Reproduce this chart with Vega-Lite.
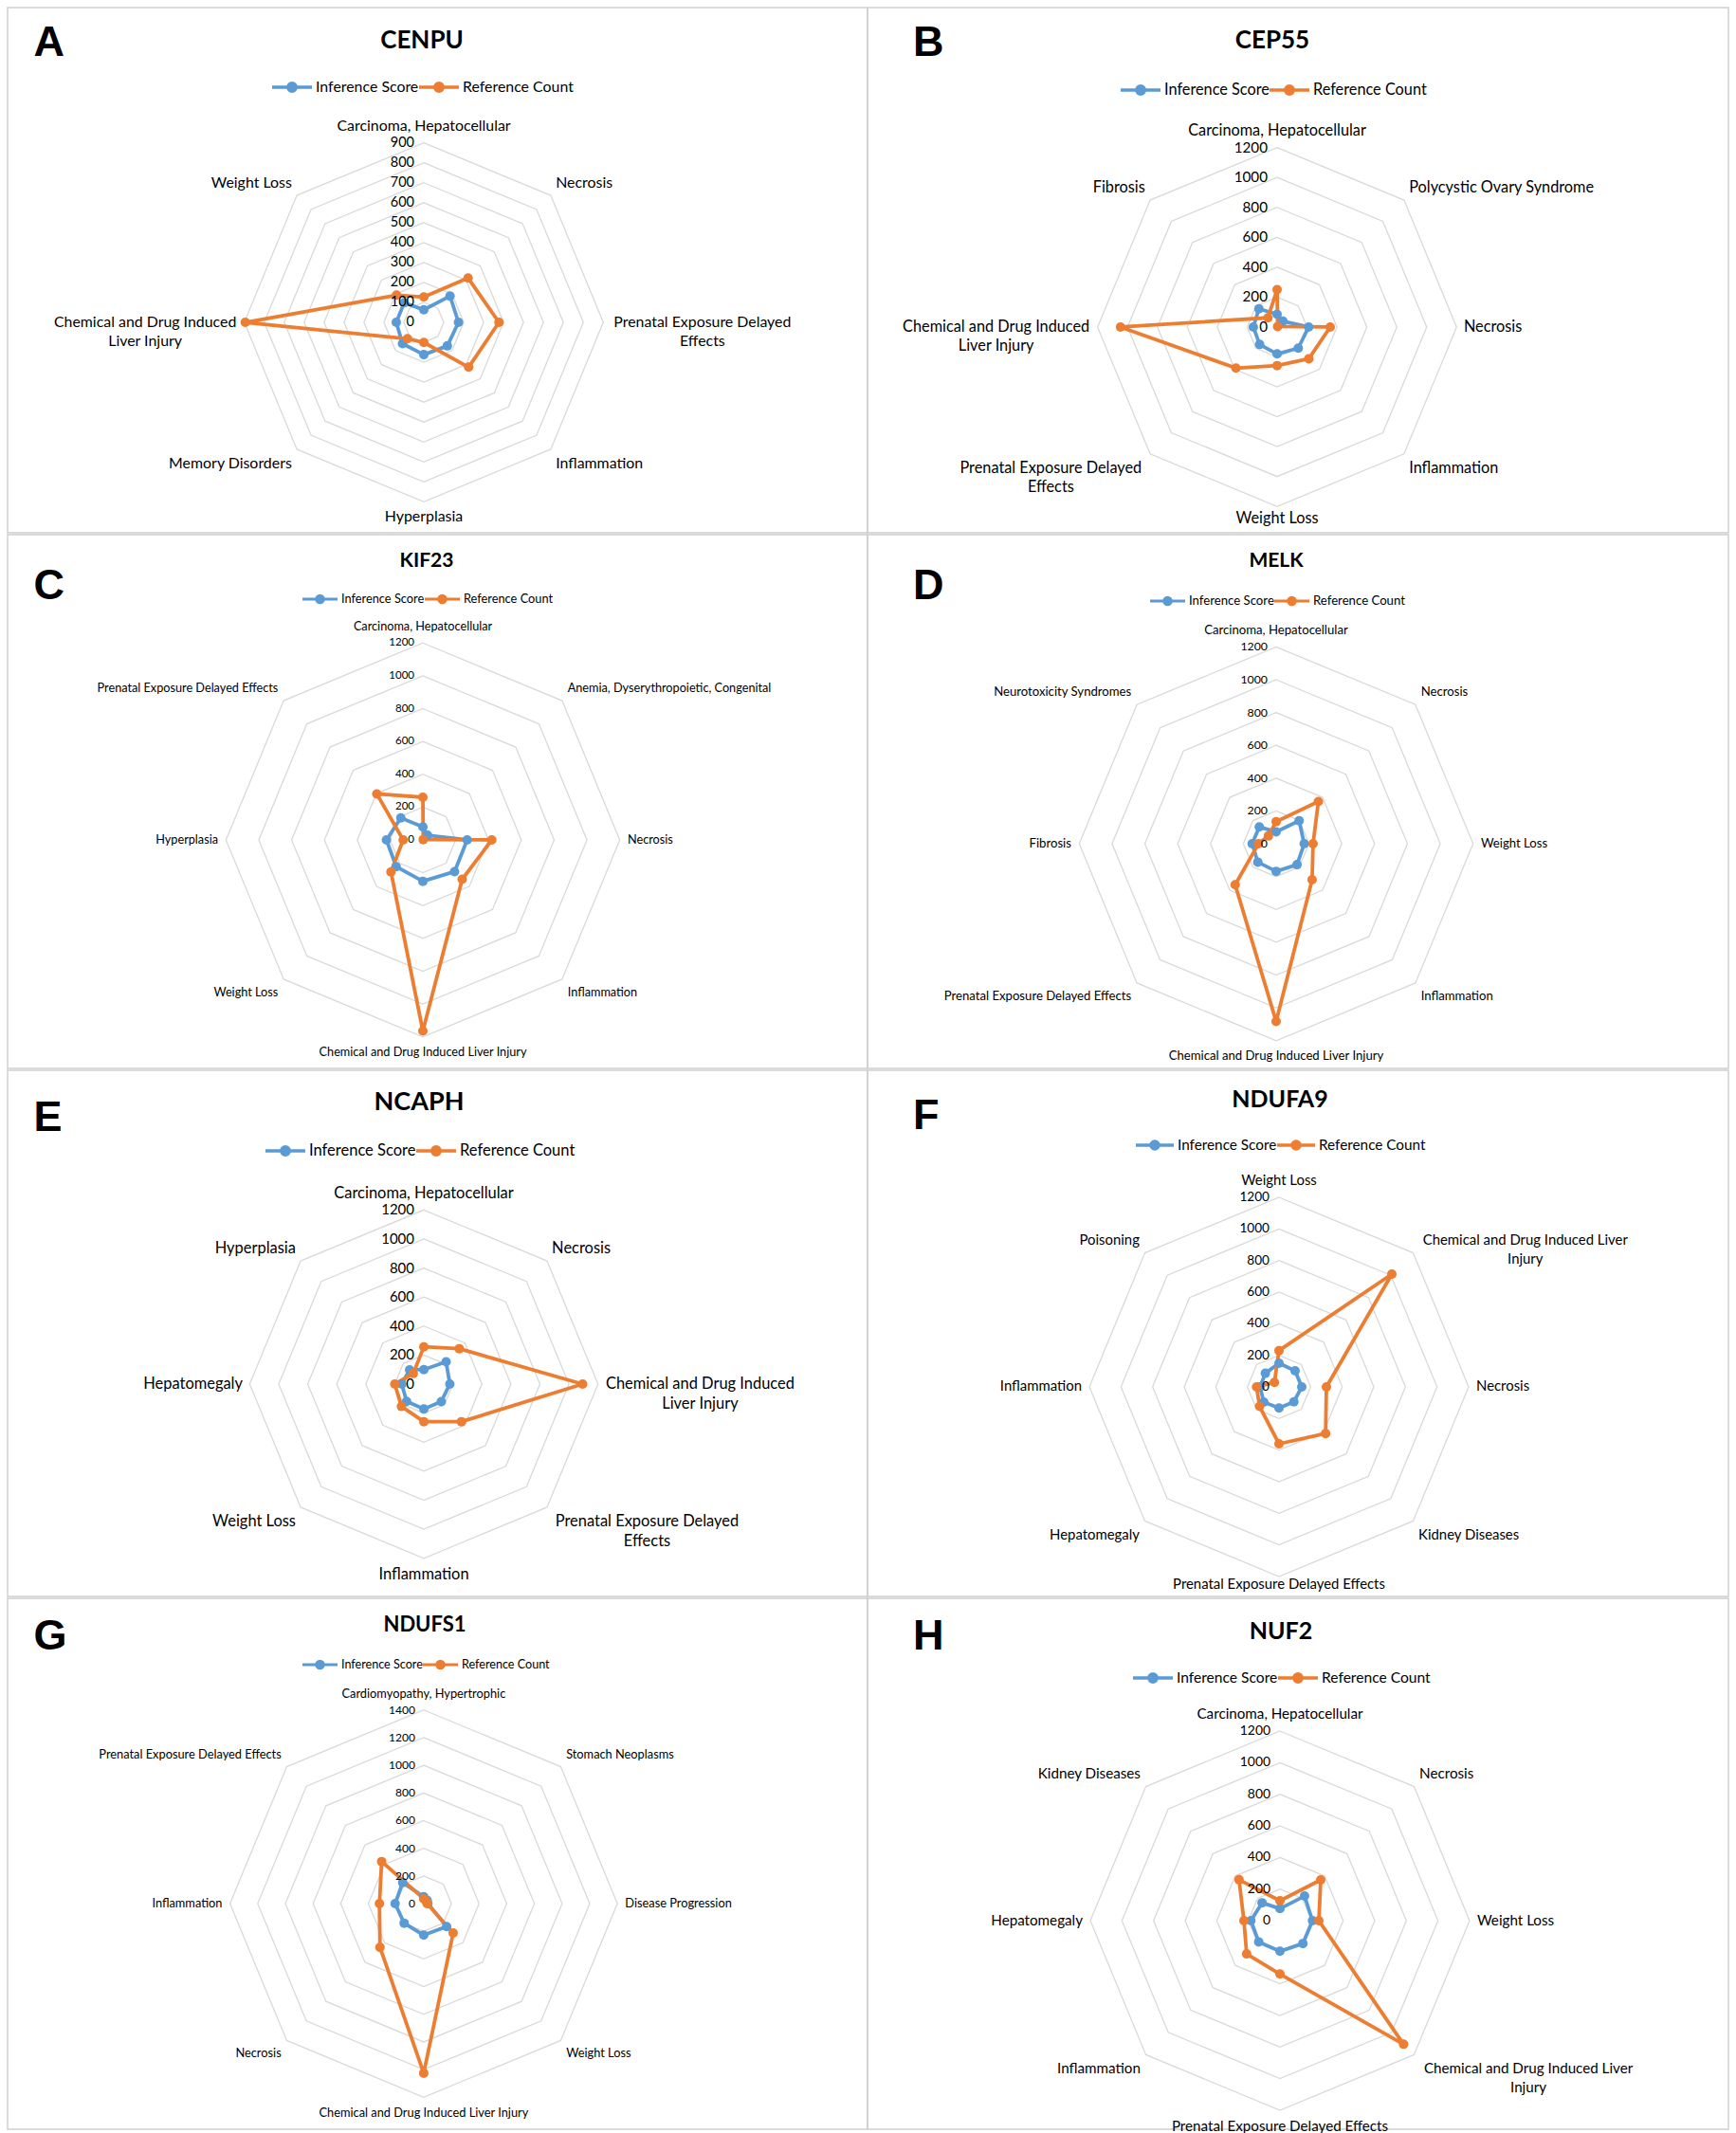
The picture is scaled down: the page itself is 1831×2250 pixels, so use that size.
{
"$schema": "https://vega.github.io/schema/vega-lite/v6.json",
"background": "white",
"padding": {"left": 7, "top": 7, "right": 9, "bottom": 11},
"config": {"view": {"stroke": "#d0d0d0", "strokeWidth": 1.5}, "font": "Lato"},
"datasets": {
"ticks": [
{"level":0,"k":[0,1,2,3,4,5,6,7]},{"level":100,"k":[0,1,2,3,4,5,6,7]},{"level":200,"k":[0,1,2,3,4,5,6,7]},{"level":300,"k":[0,1,2,3,4,5,6,7]},{"level":400,"k":[0,1,2,3,4,5,6,7]},{"level":500,"k":[0,1,2,3,4,5,6,7]},{"level":600,"k":[0,1,2,3,4,5,6,7]},{"level":700,"k":[0,1,2,3,4,5,6,7]},{"level":800,"k":[0,1,2,3,4,5,6,7]},{"level":900,"k":[0,1,2,3,4,5,6,7]},{"level":1000,"k":[0,1,2,3,4,5,6,7]},{"level":1100,"k":[0,1,2,3,4,5,6,7]},{"level":1200,"k":[0,1,2,3,4,5,6,7]},{"level":1300,"k":[0,1,2,3,4,5,6,7]},{"level":1400,"k":[0,1,2,3,4,5,6,7]}
],
"series": [
{"g":"CENPU","k":0,"cat":"Carcinoma, Hepatocellular","series":"Inference Score","value":63},
{"g":"CENPU","k":1,"cat":"Necrosis","series":"Inference Score","value":186},
{"g":"CENPU","k":2,"cat":"Prenatal Exposure Delayed Effects","series":"Inference Score","value":174},
{"g":"CENPU","k":3,"cat":"Inflammation","series":"Inference Score","value":167},
{"g":"CENPU","k":4,"cat":"Hyperplasia","series":"Inference Score","value":162},
{"g":"CENPU","k":5,"cat":"Memory Disorders","series":"Inference Score","value":151},
{"g":"CENPU","k":6,"cat":"Chemical and Drug Induced Liver Injury","series":"Inference Score","value":138},
{"g":"CENPU","k":7,"cat":"Weight Loss","series":"Inference Score","value":139},
{"g":"CENPU","k":0,"cat":"Carcinoma, Hepatocellular","series":"Reference Count","value":127},
{"g":"CENPU","k":1,"cat":"Necrosis","series":"Reference Count","value":314},
{"g":"CENPU","k":2,"cat":"Prenatal Exposure Delayed Effects","series":"Reference Count","value":377},
{"g":"CENPU","k":3,"cat":"Inflammation","series":"Reference Count","value":318},
{"g":"CENPU","k":4,"cat":"Hyperplasia","series":"Reference Count","value":101},
{"g":"CENPU","k":5,"cat":"Memory Disorders","series":"Reference Count","value":116},
{"g":"CENPU","k":6,"cat":"Chemical and Drug Induced Liver Injury","series":"Reference Count","value":895},
{"g":"CENPU","k":7,"cat":"Weight Loss","series":"Reference Count","value":193},
{"g":"CEP55","k":0,"cat":"Carcinoma, Hepatocellular","series":"Inference Score","value":85},
{"g":"CEP55","k":1,"cat":"Polycystic Ovary Syndrome","series":"Inference Score","value":55},
{"g":"CEP55","k":2,"cat":"Necrosis","series":"Inference Score","value":211},
{"g":"CEP55","k":3,"cat":"Inflammation","series":"Inference Score","value":200},
{"g":"CEP55","k":4,"cat":"Weight Loss","series":"Inference Score","value":180},
{"g":"CEP55","k":5,"cat":"Prenatal Exposure Delayed Effects","series":"Inference Score","value":165},
{"g":"CEP55","k":6,"cat":"Chemical and Drug Induced Liver Injury","series":"Inference Score","value":159},
{"g":"CEP55","k":7,"cat":"Fibrosis","series":"Inference Score","value":172},
{"g":"CEP55","k":0,"cat":"Carcinoma, Hepatocellular","series":"Reference Count","value":250},
{"g":"CEP55","k":1,"cat":"Polycystic Ovary Syndrome","series":"Reference Count","value":5},
{"g":"CEP55","k":2,"cat":"Necrosis","series":"Reference Count","value":355},
{"g":"CEP55","k":3,"cat":"Inflammation","series":"Reference Count","value":300},
{"g":"CEP55","k":4,"cat":"Weight Loss","series":"Reference Count","value":258},
{"g":"CEP55","k":5,"cat":"Prenatal Exposure Delayed Effects","series":"Reference Count","value":389},
{"g":"CEP55","k":6,"cat":"Chemical and Drug Induced Liver Injury","series":"Reference Count","value":1047},
{"g":"CEP55","k":7,"cat":"Fibrosis","series":"Reference Count","value":87},
{"g":"KIF23","k":0,"cat":"Carcinoma, Hepatocellular","series":"Inference Score","value":80},
{"g":"KIF23","k":1,"cat":"Anemia, Dyserythropoietic, Congenital","series":"Inference Score","value":40},
{"g":"KIF23","k":2,"cat":"Necrosis","series":"Inference Score","value":270},
{"g":"KIF23","k":3,"cat":"Inflammation","series":"Inference Score","value":273},
{"g":"KIF23","k":4,"cat":"Chemical and Drug Induced Liver Injury","series":"Inference Score","value":252},
{"g":"KIF23","k":5,"cat":"Weight Loss","series":"Inference Score","value":230},
{"g":"KIF23","k":6,"cat":"Hyperplasia","series":"Inference Score","value":222},
{"g":"KIF23","k":7,"cat":"Prenatal Exposure Delayed Effects","series":"Inference Score","value":190},
{"g":"KIF23","k":0,"cat":"Carcinoma, Hepatocellular","series":"Reference Count","value":260},
{"g":"KIF23","k":1,"cat":"Anemia, Dyserythropoietic, Congenital","series":"Reference Count","value":3},
{"g":"KIF23","k":2,"cat":"Necrosis","series":"Reference Count","value":420},
{"g":"KIF23","k":3,"cat":"Inflammation","series":"Reference Count","value":339},
{"g":"KIF23","k":4,"cat":"Chemical and Drug Induced Liver Injury","series":"Reference Count","value":1164},
{"g":"KIF23","k":5,"cat":"Weight Loss","series":"Reference Count","value":275},
{"g":"KIF23","k":6,"cat":"Hyperplasia","series":"Reference Count","value":120},
{"g":"KIF23","k":7,"cat":"Prenatal Exposure Delayed Effects","series":"Reference Count","value":397},
{"g":"MELK","k":0,"cat":"Carcinoma, Hepatocellular","series":"Inference Score","value":73},
{"g":"MELK","k":1,"cat":"Necrosis","series":"Inference Score","value":198},
{"g":"MELK","k":2,"cat":"Weight Loss","series":"Inference Score","value":171},
{"g":"MELK","k":3,"cat":"Inflammation","series":"Inference Score","value":180},
{"g":"MELK","k":4,"cat":"Chemical and Drug Induced Liver Injury","series":"Inference Score","value":168},
{"g":"MELK","k":5,"cat":"Prenatal Exposure Delayed Effects","series":"Inference Score","value":158},
{"g":"MELK","k":6,"cat":"Fibrosis","series":"Inference Score","value":146},
{"g":"MELK","k":7,"cat":"Neurotoxicity Syndromes","series":"Inference Score","value":145},
{"g":"MELK","k":0,"cat":"Carcinoma, Hepatocellular","series":"Reference Count","value":135},
{"g":"MELK","k":1,"cat":"Necrosis","series":"Reference Count","value":364},
{"g":"MELK","k":2,"cat":"Weight Loss","series":"Reference Count","value":225},
{"g":"MELK","k":3,"cat":"Inflammation","series":"Reference Count","value":310},
{"g":"MELK","k":4,"cat":"Chemical and Drug Induced Liver Injury","series":"Reference Count","value":1083},
{"g":"MELK","k":5,"cat":"Prenatal Exposure Delayed Effects","series":"Reference Count","value":353},
{"g":"MELK","k":6,"cat":"Fibrosis","series":"Reference Count","value":108},
{"g":"MELK","k":7,"cat":"Neurotoxicity Syndromes","series":"Reference Count","value":67},
{"g":"NCAPH","k":0,"cat":"Carcinoma, Hepatocellular","series":"Inference Score","value":100},
{"g":"NCAPH","k":1,"cat":"Necrosis","series":"Inference Score","value":217},
{"g":"NCAPH","k":2,"cat":"Chemical and Drug Induced Liver Injury","series":"Inference Score","value":179},
{"g":"NCAPH","k":3,"cat":"Prenatal Exposure Delayed Effects","series":"Inference Score","value":170},
{"g":"NCAPH","k":4,"cat":"Inflammation","series":"Inference Score","value":172},
{"g":"NCAPH","k":5,"cat":"Weight Loss","series":"Inference Score","value":168},
{"g":"NCAPH","k":6,"cat":"Hepatomegaly","series":"Inference Score","value":152},
{"g":"NCAPH","k":7,"cat":"Hyperplasia","series":"Inference Score","value":139},
{"g":"NCAPH","k":0,"cat":"Carcinoma, Hepatocellular","series":"Reference Count","value":257},
{"g":"NCAPH","k":1,"cat":"Necrosis","series":"Reference Count","value":345},
{"g":"NCAPH","k":2,"cat":"Chemical and Drug Induced Liver Injury","series":"Reference Count","value":1094},
{"g":"NCAPH","k":3,"cat":"Prenatal Exposure Delayed Effects","series":"Reference Count","value":366},
{"g":"NCAPH","k":4,"cat":"Inflammation","series":"Reference Count","value":259},
{"g":"NCAPH","k":5,"cat":"Weight Loss","series":"Reference Count","value":218},
{"g":"NCAPH","k":6,"cat":"Hepatomegaly","series":"Reference Count","value":200},
{"g":"NCAPH","k":7,"cat":"Hyperplasia","series":"Reference Count","value":103},
{"g":"NDUFA9","k":0,"cat":"Weight Loss","series":"Inference Score","value":150},
{"g":"NDUFA9","k":1,"cat":"Chemical and Drug Induced Liver Injury","series":"Inference Score","value":144},
{"g":"NDUFA9","k":2,"cat":"Necrosis","series":"Inference Score","value":144},
{"g":"NDUFA9","k":3,"cat":"Kidney Diseases","series":"Inference Score","value":133},
{"g":"NDUFA9","k":4,"cat":"Prenatal Exposure Delayed Effects","series":"Inference Score","value":134},
{"g":"NDUFA9","k":5,"cat":"Hepatomegaly","series":"Inference Score","value":136},
{"g":"NDUFA9","k":6,"cat":"Inflammation","series":"Inference Score","value":120},
{"g":"NDUFA9","k":7,"cat":"Poisoning","series":"Inference Score","value":122},
{"g":"NDUFA9","k":0,"cat":"Weight Loss","series":"Reference Count","value":230},
{"g":"NDUFA9","k":1,"cat":"Chemical and Drug Induced Liver Injury","series":"Reference Count","value":1010},
{"g":"NDUFA9","k":2,"cat":"Necrosis","series":"Reference Count","value":300},
{"g":"NDUFA9","k":3,"cat":"Kidney Diseases","series":"Reference Count","value":417},
{"g":"NDUFA9","k":4,"cat":"Prenatal Exposure Delayed Effects","series":"Reference Count","value":360},
{"g":"NDUFA9","k":5,"cat":"Hepatomegaly","series":"Reference Count","value":174},
{"g":"NDUFA9","k":6,"cat":"Inflammation","series":"Reference Count","value":142},
{"g":"NDUFA9","k":7,"cat":"Poisoning","series":"Reference Count","value":41},
{"g":"NDUFS1","k":0,"cat":"Cardiomyopathy, Hypertrophic","series":"Inference Score","value":50},
{"g":"NDUFS1","k":1,"cat":"Stomach Neoplasms","series":"Inference Score","value":35},
{"g":"NDUFS1","k":2,"cat":"Disease Progression","series":"Inference Score","value":30},
{"g":"NDUFS1","k":3,"cat":"Weight Loss","series":"Inference Score","value":234},
{"g":"NDUFS1","k":4,"cat":"Chemical and Drug Induced Liver Injury","series":"Inference Score","value":228},
{"g":"NDUFS1","k":5,"cat":"Necrosis","series":"Inference Score","value":200},
{"g":"NDUFS1","k":6,"cat":"Inflammation","series":"Inference Score","value":207},
{"g":"NDUFS1","k":7,"cat":"Prenatal Exposure Delayed Effects","series":"Inference Score","value":215},
{"g":"NDUFS1","k":0,"cat":"Cardiomyopathy, Hypertrophic","series":"Reference Count","value":35},
{"g":"NDUFS1","k":1,"cat":"Stomach Neoplasms","series":"Reference Count","value":25},
{"g":"NDUFS1","k":2,"cat":"Disease Progression","series":"Reference Count","value":25},
{"g":"NDUFS1","k":3,"cat":"Weight Loss","series":"Reference Count","value":301},
{"g":"NDUFS1","k":4,"cat":"Chemical and Drug Induced Liver Injury","series":"Reference Count","value":1226},
{"g":"NDUFS1","k":5,"cat":"Necrosis","series":"Reference Count","value":447},
{"g":"NDUFS1","k":6,"cat":"Inflammation","series":"Reference Count","value":320},
{"g":"NDUFS1","k":7,"cat":"Prenatal Exposure Delayed Effects","series":"Reference Count","value":430},
{"g":"NUF2","k":0,"cat":"Carcinoma, Hepatocellular","series":"Inference Score","value":76},
{"g":"NUF2","k":1,"cat":"Necrosis","series":"Inference Score","value":220},
{"g":"NUF2","k":2,"cat":"Weight Loss","series":"Inference Score","value":206},
{"g":"NUF2","k":3,"cat":"Chemical and Drug Induced Liver Injury","series":"Inference Score","value":205},
{"g":"NUF2","k":4,"cat":"Prenatal Exposure Delayed Effects","series":"Inference Score","value":194},
{"g":"NUF2","k":5,"cat":"Inflammation","series":"Inference Score","value":190},
{"g":"NUF2","k":6,"cat":"Hepatomegaly","series":"Inference Score","value":184},
{"g":"NUF2","k":7,"cat":"Kidney Diseases","series":"Inference Score","value":160},
{"g":"NUF2","k":0,"cat":"Carcinoma, Hepatocellular","series":"Reference Count","value":126},
{"g":"NUF2","k":1,"cat":"Necrosis","series":"Reference Count","value":365},
{"g":"NUF2","k":2,"cat":"Weight Loss","series":"Reference Count","value":246},
{"g":"NUF2","k":3,"cat":"Chemical and Drug Induced Liver Injury","series":"Reference Count","value":1106},
{"g":"NUF2","k":4,"cat":"Prenatal Exposure Delayed Effects","series":"Reference Count","value":338},
{"g":"NUF2","k":5,"cat":"Inflammation","series":"Reference Count","value":298},
{"g":"NUF2","k":6,"cat":"Hepatomegaly","series":"Reference Count","value":228},
{"g":"NUF2","k":7,"cat":"Kidney Diseases","series":"Reference Count","value":366}
]
},
"spacing": 0,
"resolve": {"scale": {"x": "independent", "y": "independent", "color": "independent"}, "legend": {"color": "independent"}, "axis": {"x": "independent", "y": "independent"}},
"vconcat": [
{"hconcat": [
{
"width": 907, "height": 554,
"encoding": {
"x": {"field": "x", "type": "quantitative", "scale": {"domain": [-2087, 2225], "nice": false, "zero": false}, "axis": {"orient": "top", "domain": false, "ticks": false, "labels": false, "grid": false, "title": "A", "titleFont": "Liberation Sans", "titleFontSize": 45, "titleFontWeight": "bold", "titleColor": "#000", "titleAngle": 0, "titleAlign": "left", "titleAnchor": "start", "titleBaseline": "alphabetic", "titleX": 27, "titleY": 50}},
"y": {"field": "y", "type": "quantitative", "scale": {"domain": [-1055, 1578], "nice": false, "zero": false}, "axis": null}
},
"layer": [
{"data": {"name": "ticks"}, "transform": [{"filter": "datum.level > 0 && datum.level <= 900"}, {"flatten": ["k"]}, {"calculate": "datum.level * sin(datum.k * PI / 4)", "as": "x"}, {"calculate": "datum.level * cos(datum.k * PI / 4)", "as": "y"}], "mark": {"type": "line", "interpolate": "linear-closed", "color": "#d9d9d9", "strokeWidth": 1.3}, "encoding": {"detail": {"field": "level", "type": "nominal"}, "order": {"field": "k", "type": "quantitative"}}},
{"data": {"name": "series"}, "transform": [{"filter": "datum.g == 'CENPU'"}, {"calculate": "datum.value * sin(datum.k * PI / 4)", "as": "x"}, {"calculate": "datum.value * cos(datum.k * PI / 4)", "as": "y"}], "layer": [
{"mark": {"type": "line", "interpolate": "linear-closed", "strokeWidth": 3.8, "strokeJoin": "round"}, "encoding": {"order": {"field": "k", "type": "quantitative"}, "color": {"field": "series", "type": "nominal", "scale": {"domain": ["Inference Score", "Reference Count"], "range": ["#5B9BD5", "#ED7D31"]}, "legend": {"orient": "none", "legendX": 277, "legendY": 21.6, "direction": "horizontal", "title": "CENPU", "titleOrient": "top", "titleAnchor": "middle", "titleBaseline": "top", "titleFont": "Lato", "titleFontSize": 26, "titleFontWeight": "bold", "titleColor": "#000", "titlePadding": 13.4, "gridAlign": "none", "symbolType": "M-1,0L1,0M0.2,0A0.2,0.2,0,1,1,-0.2,0A0.2,0.2,0,1,1,0.2,0Z", "symbolSize": 1764, "symbolStrokeWidth": 3.5, "labelFont": "Lato", "labelFontSize": 15.9, "labelColor": "#000", "labelOffset": 2, "columnPadding": -7, "encode": {"symbols": {"update": {"fill": {"signal": "datum.value === 'Inference Score' ? '#5B9BD5' : '#ED7D31'"}, "stroke": {"signal": "datum.value === 'Inference Score' ? '#5B9BD5' : '#ED7D31'"}}}}}}}},
{"mark": {"type": "point", "filled": true, "size": 100, "opacity": 1}, "encoding": {"color": {"field": "series", "type": "nominal", "scale": {"domain": ["Inference Score", "Reference Count"], "range": ["#5B9BD5", "#ED7D31"]}, "legend": {"orient": "none", "legendX": 277, "legendY": 21.6, "direction": "horizontal", "title": "CENPU", "titleOrient": "top", "titleAnchor": "middle", "titleBaseline": "top", "titleFont": "Lato", "titleFontSize": 26, "titleFontWeight": "bold", "titleColor": "#000", "titlePadding": 13.4, "gridAlign": "none", "symbolType": "M-1,0L1,0M0.2,0A0.2,0.2,0,1,1,-0.2,0A0.2,0.2,0,1,1,0.2,0Z", "symbolSize": 1764, "symbolStrokeWidth": 3.5, "labelFont": "Lato", "labelFontSize": 15.9, "labelColor": "#000", "labelOffset": 2, "columnPadding": -7, "encode": {"symbols": {"update": {"fill": {"signal": "datum.value === 'Inference Score' ? '#5B9BD5' : '#ED7D31'"}, "stroke": {"signal": "datum.value === 'Inference Score' ? '#5B9BD5' : '#ED7D31'"}}}}}}}}
]},
{"data": {"name": "ticks"}, "transform": [{"filter": "datum.level <= 900"}, {"calculate": "0", "as": "x"}, {"calculate": "datum.level", "as": "y"}], "mark": {"type": "text", "align": "right", "baseline": "middle", "dx": -10, "fontSize": 14.5, "font": "Lato", "color": "#000"}, "encoding": {"text": {"field": "level", "type": "quantitative", "format": "d"}}},
{"data": {"name": "series"}, "transform": [{"filter": "datum.g == 'CENPU' && datum.series == 'Reference Count'"}, {"calculate": "replace(replace(datum.cat, 'Induced ', 'Induced|'), 'Delayed ', 'Delayed|')", "as": "label"}, {"calculate": "(datum.k % 4 == 0 ? 1.05 : 1.04) * 900 * sin(datum.k * PI / 4)", "as": "x"}, {"calculate": "(datum.k == 0 ? 1.05 : (datum.k == 4 ? 1.04 : (datum.k == 3 || datum.k == 5 ? 1.055 : 1.04))) * 900 * cos(datum.k * PI / 4)", "as": "y"}], "mark": {"type": "text", "lineBreak": "|", "lineHeight": 20, "fontSize": 15.9, "font": "Lato", "color": "#000", "align": {"expr": "datum.k % 4 == 0 || indexof(datum.label, '|') >= 0 ? 'center' : (datum.k < 4 ? 'left' : 'right')"}, "dx": {"expr": "indexof(datum.label, '|') >= 0 ? (datum.k < 4 ? 1 : -1) * 0.244 * 15.9 * length(split(datum.label, '|')[0]) : 0"}, "baseline": {"expr": "datum.k == 0 || datum.k == 1 || datum.k == 7 ? 'bottom' : (datum.k == 2 || datum.k == 6 ? 'middle' : 'top')"}}, "encoding": {"text": {"field": "label", "type": "nominal"}}}
]
},
{
"width": 908, "height": 554,
"encoding": {
"x": {"field": "x", "type": "quantitative", "scale": {"domain": [-2738, 3017], "nice": false, "zero": false}, "axis": {"orient": "top", "domain": false, "ticks": false, "labels": false, "grid": false, "title": "B", "titleFont": "Liberation Sans", "titleFontSize": 45, "titleFontWeight": "bold", "titleColor": "#000", "titleAngle": 0, "titleAlign": "left", "titleAnchor": "start", "titleBaseline": "alphabetic", "titleX": 47.5, "titleY": 50}},
"y": {"field": "y", "type": "quantitative", "scale": {"domain": [-1376, 2136], "nice": false, "zero": false}, "axis": null}
},
"layer": [
{"data": {"name": "ticks"}, "transform": [{"filter": "datum.level > 0 && datum.level <= 1200 && datum.level % 200 == 0"}, {"flatten": ["k"]}, {"calculate": "datum.level * sin(datum.k * PI / 4)", "as": "x"}, {"calculate": "datum.level * cos(datum.k * PI / 4)", "as": "y"}], "mark": {"type": "line", "interpolate": "linear-closed", "color": "#d9d9d9", "strokeWidth": 1.3}, "encoding": {"detail": {"field": "level", "type": "nominal"}, "order": {"field": "k", "type": "quantitative"}}},
{"data": {"name": "series"}, "transform": [{"filter": "datum.g == 'CEP55'"}, {"calculate": "datum.value * sin(datum.k * PI / 4)", "as": "x"}, {"calculate": "datum.value * cos(datum.k * PI / 4)", "as": "y"}], "layer": [
{"mark": {"type": "line", "interpolate": "linear-closed", "strokeWidth": 3.8, "strokeJoin": "round"}, "encoding": {"order": {"field": "k", "type": "quantitative"}, "color": {"field": "series", "type": "nominal", "scale": {"domain": ["Inference Score", "Reference Count"], "range": ["#5B9BD5", "#ED7D31"]}, "legend": {"orient": "none", "legendX": 265, "legendY": 21.6, "direction": "horizontal", "title": "CEP55", "titleOrient": "top", "titleAnchor": "middle", "titleBaseline": "top", "titleFont": "Lato", "titleFontSize": 26, "titleFontWeight": "bold", "titleColor": "#000", "titlePadding": 16.4, "gridAlign": "none", "symbolType": "M-1,0L1,0M0.2,0A0.2,0.2,0,1,1,-0.2,0A0.2,0.2,0,1,1,0.2,0Z", "symbolSize": 1764, "symbolStrokeWidth": 3.5, "labelFont": "Lato", "labelFontSize": 16.3, "labelColor": "#000", "labelOffset": 2, "columnPadding": -7, "encode": {"symbols": {"update": {"fill": {"signal": "datum.value === 'Inference Score' ? '#5B9BD5' : '#ED7D31'"}, "stroke": {"signal": "datum.value === 'Inference Score' ? '#5B9BD5' : '#ED7D31'"}}}}}}}},
{"mark": {"type": "point", "filled": true, "size": 100, "opacity": 1}, "encoding": {"color": {"field": "series", "type": "nominal", "scale": {"domain": ["Inference Score", "Reference Count"], "range": ["#5B9BD5", "#ED7D31"]}, "legend": {"orient": "none", "legendX": 265, "legendY": 21.6, "direction": "horizontal", "title": "CEP55", "titleOrient": "top", "titleAnchor": "middle", "titleBaseline": "top", "titleFont": "Lato", "titleFontSize": 26, "titleFontWeight": "bold", "titleColor": "#000", "titlePadding": 16.4, "gridAlign": "none", "symbolType": "M-1,0L1,0M0.2,0A0.2,0.2,0,1,1,-0.2,0A0.2,0.2,0,1,1,0.2,0Z", "symbolSize": 1764, "symbolStrokeWidth": 3.5, "labelFont": "Lato", "labelFontSize": 16.3, "labelColor": "#000", "labelOffset": 2, "columnPadding": -7, "encode": {"symbols": {"update": {"fill": {"signal": "datum.value === 'Inference Score' ? '#5B9BD5' : '#ED7D31'"}, "stroke": {"signal": "datum.value === 'Inference Score' ? '#5B9BD5' : '#ED7D31'"}}}}}}}}
]},
{"data": {"name": "ticks"}, "transform": [{"filter": "datum.level <= 1200 && datum.level % 200 == 0"}, {"calculate": "0", "as": "x"}, {"calculate": "datum.level", "as": "y"}], "mark": {"type": "text", "align": "right", "baseline": "middle", "dx": -10, "fontSize": 15.2, "font": "Lato", "color": "#000"}, "encoding": {"text": {"field": "level", "type": "quantitative", "format": "d"}}},
{"data": {"name": "series"}, "transform": [{"filter": "datum.g == 'CEP55' && datum.series == 'Reference Count'"}, {"calculate": "replace(replace(datum.cat, 'Induced ', 'Induced|'), 'Delayed ', 'Delayed|')", "as": "label"}, {"calculate": "(datum.k % 4 == 0 ? 1.05 : 1.04) * 1200 * sin(datum.k * PI / 4)", "as": "x"}, {"calculate": "(datum.k == 0 ? 1.05 : (datum.k == 4 ? 1.025 : (datum.k == 3 || datum.k == 5 ? 1.055 : 1.04))) * 1200 * cos(datum.k * PI / 4)", "as": "y"}], "mark": {"type": "text", "lineBreak": "|", "lineHeight": 20, "fontSize": 16.3, "font": "Lato", "color": "#000", "align": {"expr": "datum.k % 4 == 0 || indexof(datum.label, '|') >= 0 ? 'center' : (datum.k < 4 ? 'left' : 'right')"}, "dx": {"expr": "indexof(datum.label, '|') >= 0 ? (datum.k < 4 ? 1 : -1) * 0.244 * 16.3 * length(split(datum.label, '|')[0]) : 0"}, "baseline": {"expr": "datum.k == 0 || datum.k == 1 || datum.k == 7 ? 'bottom' : (datum.k == 2 || datum.k == 6 ? 'middle' : 'top')"}}, "encoding": {"text": {"field": "label", "type": "nominal"}}}
]
}
], "spacing": 0, "bounds": "flush", "resolve": {"scale": {"x": "independent", "y": "independent", "color": "independent"}, "legend": {"color": "independent"}, "axis": {"x": "independent", "y": "independent"}}},
{"hconcat": [
{
"width": 907, "height": 563,
"encoding": {
"x": {"field": "x", "type": "quantitative", "scale": {"domain": [-2531, 2710], "nice": false, "zero": false}, "axis": {"orient": "top", "domain": false, "ticks": false, "labels": false, "grid": false, "title": "C", "titleFont": "Liberation Sans", "titleFontSize": 45, "titleFontWeight": "bold", "titleColor": "#000", "titleAngle": 0, "titleAlign": "left", "titleAnchor": "start", "titleBaseline": "alphabetic", "titleX": 27, "titleY": 67.5}},
"y": {"field": "y", "type": "quantitative", "scale": {"domain": [-1392, 1860], "nice": false, "zero": false}, "axis": null}
},
"layer": [
{"data": {"name": "ticks"}, "transform": [{"filter": "datum.level > 0 && datum.level <= 1200 && datum.level % 200 == 0"}, {"flatten": ["k"]}, {"calculate": "datum.level * sin(datum.k * PI / 4)", "as": "x"}, {"calculate": "datum.level * cos(datum.k * PI / 4)", "as": "y"}], "mark": {"type": "line", "interpolate": "linear-closed", "color": "#d9d9d9", "strokeWidth": 1.3}, "encoding": {"detail": {"field": "level", "type": "nominal"}, "order": {"field": "k", "type": "quantitative"}}},
{"data": {"name": "series"}, "transform": [{"filter": "datum.g == 'KIF23'"}, {"calculate": "datum.value * sin(datum.k * PI / 4)", "as": "x"}, {"calculate": "datum.value * cos(datum.k * PI / 4)", "as": "y"}], "layer": [
{"mark": {"type": "line", "interpolate": "linear-closed", "strokeWidth": 3.8, "strokeJoin": "round"}, "encoding": {"order": {"field": "k", "type": "quantitative"}, "color": {"field": "series", "type": "nominal", "scale": {"domain": ["Inference Score", "Reference Count"], "range": ["#5B9BD5", "#ED7D31"]}, "legend": {"orient": "none", "legendX": 309, "legendY": 16.5, "direction": "horizontal", "title": "KIF23", "titleOrient": "top", "titleAnchor": "middle", "titleBaseline": "top", "titleFont": "Lato", "titleFontSize": 21, "titleFontWeight": "bold", "titleColor": "#000", "titlePadding": 10, "gridAlign": "none", "symbolType": "M-1,0L1,0M0.2,0A0.2,0.2,0,1,1,-0.2,0A0.2,0.2,0,1,1,0.2,0Z", "symbolSize": 1369, "symbolStrokeWidth": 3.2, "labelFont": "Lato", "labelFontSize": 12.8, "labelColor": "#000", "labelOffset": 2, "columnPadding": -7, "encode": {"symbols": {"update": {"fill": {"signal": "datum.value === 'Inference Score' ? '#5B9BD5' : '#ED7D31'"}, "stroke": {"signal": "datum.value === 'Inference Score' ? '#5B9BD5' : '#ED7D31'"}}}}}}}},
{"mark": {"type": "point", "filled": true, "size": 100, "opacity": 1}, "encoding": {"color": {"field": "series", "type": "nominal", "scale": {"domain": ["Inference Score", "Reference Count"], "range": ["#5B9BD5", "#ED7D31"]}, "legend": {"orient": "none", "legendX": 309, "legendY": 16.5, "direction": "horizontal", "title": "KIF23", "titleOrient": "top", "titleAnchor": "middle", "titleBaseline": "top", "titleFont": "Lato", "titleFontSize": 21, "titleFontWeight": "bold", "titleColor": "#000", "titlePadding": 10, "gridAlign": "none", "symbolType": "M-1,0L1,0M0.2,0A0.2,0.2,0,1,1,-0.2,0A0.2,0.2,0,1,1,0.2,0Z", "symbolSize": 1369, "symbolStrokeWidth": 3.2, "labelFont": "Lato", "labelFontSize": 12.8, "labelColor": "#000", "labelOffset": 2, "columnPadding": -7, "encode": {"symbols": {"update": {"fill": {"signal": "datum.value === 'Inference Score' ? '#5B9BD5' : '#ED7D31'"}, "stroke": {"signal": "datum.value === 'Inference Score' ? '#5B9BD5' : '#ED7D31'"}}}}}}}}
]},
{"data": {"name": "ticks"}, "transform": [{"filter": "datum.level <= 1200 && datum.level % 200 == 0"}, {"calculate": "0", "as": "x"}, {"calculate": "datum.level", "as": "y"}], "mark": {"type": "text", "align": "right", "baseline": "middle", "dx": -9, "fontSize": 11.5, "font": "Lato", "color": "#000"}, "encoding": {"text": {"field": "level", "type": "quantitative", "format": "d"}}},
{"data": {"name": "series"}, "transform": [{"filter": "datum.g == 'KIF23' && datum.series == 'Reference Count'"}, {"calculate": "datum.cat", "as": "label"}, {"calculate": "(datum.k % 4 == 0 ? 1.05 : 1.04) * 1200 * sin(datum.k * PI / 4)", "as": "x"}, {"calculate": "(datum.k % 4 == 0 ? 1.05 : (datum.k == 3 || datum.k == 5 ? 1.055 : 1.04)) * 1200 * cos(datum.k * PI / 4)", "as": "y"}], "mark": {"type": "text", "fontSize": 12.7, "font": "Lato", "color": "#000", "align": {"expr": "datum.k % 4 == 0 ? 'center' : (datum.k < 4 ? 'left' : 'right')"}, "baseline": {"expr": "datum.k == 0 || datum.k == 1 || datum.k == 7 ? 'bottom' : (datum.k == 2 || datum.k == 6 ? 'middle' : 'top')"}}, "encoding": {"text": {"field": "label", "type": "nominal"}}}
]
},
{
"width": 908, "height": 563,
"encoding": {
"x": {"field": "x", "type": "quantitative", "scale": {"domain": [-2490, 2756], "nice": false, "zero": false}, "axis": {"orient": "top", "domain": false, "ticks": false, "labels": false, "grid": false, "title": "D", "titleFont": "Liberation Sans", "titleFontSize": 45, "titleFontWeight": "bold", "titleColor": "#000", "titleAngle": 0, "titleAlign": "left", "titleAnchor": "start", "titleBaseline": "alphabetic", "titleX": 47.5, "titleY": 67.5}},
"y": {"field": "y", "type": "quantitative", "scale": {"domain": [-1369, 1884], "nice": false, "zero": false}, "axis": null}
},
"layer": [
{"data": {"name": "ticks"}, "transform": [{"filter": "datum.level > 0 && datum.level <= 1200 && datum.level % 200 == 0"}, {"flatten": ["k"]}, {"calculate": "datum.level * sin(datum.k * PI / 4)", "as": "x"}, {"calculate": "datum.level * cos(datum.k * PI / 4)", "as": "y"}], "mark": {"type": "line", "interpolate": "linear-closed", "color": "#d9d9d9", "strokeWidth": 1.3}, "encoding": {"detail": {"field": "level", "type": "nominal"}, "order": {"field": "k", "type": "quantitative"}}},
{"data": {"name": "series"}, "transform": [{"filter": "datum.g == 'MELK'"}, {"calculate": "datum.value * sin(datum.k * PI / 4)", "as": "x"}, {"calculate": "datum.value * cos(datum.k * PI / 4)", "as": "y"}], "layer": [
{"mark": {"type": "line", "interpolate": "linear-closed", "strokeWidth": 3.8, "strokeJoin": "round"}, "encoding": {"order": {"field": "k", "type": "quantitative"}, "color": {"field": "series", "type": "nominal", "scale": {"domain": ["Inference Score", "Reference Count"], "range": ["#5B9BD5", "#ED7D31"]}, "legend": {"orient": "none", "legendX": 296, "legendY": 16.5, "direction": "horizontal", "title": "MELK", "titleOrient": "top", "titleAnchor": "middle", "titleBaseline": "top", "titleFont": "Lato", "titleFontSize": 21, "titleFontWeight": "bold", "titleColor": "#000", "titlePadding": 12, "gridAlign": "none", "symbolType": "M-1,0L1,0M0.2,0A0.2,0.2,0,1,1,-0.2,0A0.2,0.2,0,1,1,0.2,0Z", "symbolSize": 1369, "symbolStrokeWidth": 3.2, "labelFont": "Lato", "labelFontSize": 13.2, "labelColor": "#000", "labelOffset": 2, "columnPadding": -7, "encode": {"symbols": {"update": {"fill": {"signal": "datum.value === 'Inference Score' ? '#5B9BD5' : '#ED7D31'"}, "stroke": {"signal": "datum.value === 'Inference Score' ? '#5B9BD5' : '#ED7D31'"}}}}}}}},
{"mark": {"type": "point", "filled": true, "size": 100, "opacity": 1}, "encoding": {"color": {"field": "series", "type": "nominal", "scale": {"domain": ["Inference Score", "Reference Count"], "range": ["#5B9BD5", "#ED7D31"]}, "legend": {"orient": "none", "legendX": 296, "legendY": 16.5, "direction": "horizontal", "title": "MELK", "titleOrient": "top", "titleAnchor": "middle", "titleBaseline": "top", "titleFont": "Lato", "titleFontSize": 21, "titleFontWeight": "bold", "titleColor": "#000", "titlePadding": 12, "gridAlign": "none", "symbolType": "M-1,0L1,0M0.2,0A0.2,0.2,0,1,1,-0.2,0A0.2,0.2,0,1,1,0.2,0Z", "symbolSize": 1369, "symbolStrokeWidth": 3.2, "labelFont": "Lato", "labelFontSize": 13.2, "labelColor": "#000", "labelOffset": 2, "columnPadding": -7, "encode": {"symbols": {"update": {"fill": {"signal": "datum.value === 'Inference Score' ? '#5B9BD5' : '#ED7D31'"}, "stroke": {"signal": "datum.value === 'Inference Score' ? '#5B9BD5' : '#ED7D31'"}}}}}}}}
]},
{"data": {"name": "ticks"}, "transform": [{"filter": "datum.level <= 1200 && datum.level % 200 == 0"}, {"calculate": "0", "as": "x"}, {"calculate": "datum.level", "as": "y"}], "mark": {"type": "text", "align": "right", "baseline": "middle", "dx": -9, "fontSize": 12.3, "font": "Lato", "color": "#000"}, "encoding": {"text": {"field": "level", "type": "quantitative", "format": "d"}}},
{"data": {"name": "series"}, "transform": [{"filter": "datum.g == 'MELK' && datum.series == 'Reference Count'"}, {"calculate": "datum.cat", "as": "label"}, {"calculate": "(datum.k % 4 == 0 ? 1.05 : 1.04) * 1200 * sin(datum.k * PI / 4)", "as": "x"}, {"calculate": "(datum.k % 4 == 0 ? 1.05 : (datum.k == 3 || datum.k == 5 ? 1.055 : 1.04)) * 1200 * cos(datum.k * PI / 4)", "as": "y"}], "mark": {"type": "text", "fontSize": 13.15, "font": "Lato", "color": "#000", "align": {"expr": "datum.k % 4 == 0 ? 'center' : (datum.k < 4 ? 'left' : 'right')"}, "baseline": {"expr": "datum.k == 0 || datum.k == 1 || datum.k == 7 ? 'bottom' : (datum.k == 2 || datum.k == 6 ? 'middle' : 'top')"}}, "encoding": {"text": {"field": "label", "type": "nominal"}}}
]
}
], "spacing": 0, "bounds": "flush", "resolve": {"scale": {"x": "independent", "y": "independent", "color": "independent"}, "legend": {"color": "independent"}, "axis": {"x": "independent", "y": "independent"}}},
{"hconcat": [
{
"width": 907, "height": 555,
"encoding": {
"x": {"field": "x", "type": "quantitative", "scale": {"domain": [-2868, 3057], "nice": false, "zero": false}, "axis": {"orient": "top", "domain": false, "ticks": false, "labels": false, "grid": false, "title": "E", "titleFont": "Liberation Sans", "titleFontSize": 45, "titleFontWeight": "bold", "titleColor": "#000", "titleAngle": 0, "titleAlign": "left", "titleAnchor": "start", "titleBaseline": "alphabetic", "titleX": 27, "titleY": 63}},
"y": {"field": "y", "type": "quantitative", "scale": {"domain": [-1463, 2162], "nice": false, "zero": false}, "axis": null}
},
"layer": [
{"data": {"name": "ticks"}, "transform": [{"filter": "datum.level > 0 && datum.level <= 1200 && datum.level % 200 == 0"}, {"flatten": ["k"]}, {"calculate": "datum.level * sin(datum.k * PI / 4)", "as": "x"}, {"calculate": "datum.level * cos(datum.k * PI / 4)", "as": "y"}], "mark": {"type": "line", "interpolate": "linear-closed", "color": "#d9d9d9", "strokeWidth": 1.3}, "encoding": {"detail": {"field": "level", "type": "nominal"}, "order": {"field": "k", "type": "quantitative"}}},
{"data": {"name": "series"}, "transform": [{"filter": "datum.g == 'NCAPH'"}, {"calculate": "datum.value * sin(datum.k * PI / 4)", "as": "x"}, {"calculate": "datum.value * cos(datum.k * PI / 4)", "as": "y"}], "layer": [
{"mark": {"type": "line", "interpolate": "linear-closed", "strokeWidth": 3.8, "strokeJoin": "round"}, "encoding": {"order": {"field": "k", "type": "quantitative"}, "color": {"field": "series", "type": "nominal", "scale": {"domain": ["Inference Score", "Reference Count"], "range": ["#5B9BD5", "#ED7D31"]}, "legend": {"orient": "none", "legendX": 270, "legendY": 20.5, "direction": "horizontal", "title": "NCAPH", "titleOrient": "top", "titleAnchor": "middle", "titleBaseline": "top", "titleFont": "Lato", "titleFontSize": 27, "titleFontWeight": "bold", "titleColor": "#000", "titlePadding": 14.5, "gridAlign": "none", "symbolType": "M-1,0L1,0M0.2,0A0.2,0.2,0,1,1,-0.2,0A0.2,0.2,0,1,1,0.2,0Z", "symbolSize": 1764, "symbolStrokeWidth": 3.5, "labelFont": "Lato", "labelFontSize": 16.5, "labelColor": "#000", "labelOffset": 2, "columnPadding": -7, "encode": {"symbols": {"update": {"fill": {"signal": "datum.value === 'Inference Score' ? '#5B9BD5' : '#ED7D31'"}, "stroke": {"signal": "datum.value === 'Inference Score' ? '#5B9BD5' : '#ED7D31'"}}}}}}}},
{"mark": {"type": "point", "filled": true, "size": 100, "opacity": 1}, "encoding": {"color": {"field": "series", "type": "nominal", "scale": {"domain": ["Inference Score", "Reference Count"], "range": ["#5B9BD5", "#ED7D31"]}, "legend": {"orient": "none", "legendX": 270, "legendY": 20.5, "direction": "horizontal", "title": "NCAPH", "titleOrient": "top", "titleAnchor": "middle", "titleBaseline": "top", "titleFont": "Lato", "titleFontSize": 27, "titleFontWeight": "bold", "titleColor": "#000", "titlePadding": 14.5, "gridAlign": "none", "symbolType": "M-1,0L1,0M0.2,0A0.2,0.2,0,1,1,-0.2,0A0.2,0.2,0,1,1,0.2,0Z", "symbolSize": 1764, "symbolStrokeWidth": 3.5, "labelFont": "Lato", "labelFontSize": 16.5, "labelColor": "#000", "labelOffset": 2, "columnPadding": -7, "encode": {"symbols": {"update": {"fill": {"signal": "datum.value === 'Inference Score' ? '#5B9BD5' : '#ED7D31'"}, "stroke": {"signal": "datum.value === 'Inference Score' ? '#5B9BD5' : '#ED7D31'"}}}}}}}}
]},
{"data": {"name": "ticks"}, "transform": [{"filter": "datum.level <= 1200 && datum.level % 200 == 0"}, {"calculate": "0", "as": "x"}, {"calculate": "datum.level", "as": "y"}], "mark": {"type": "text", "align": "right", "baseline": "middle", "dx": -10, "fontSize": 15, "font": "Lato", "color": "#000"}, "encoding": {"text": {"field": "level", "type": "quantitative", "format": "d"}}},
{"data": {"name": "series"}, "transform": [{"filter": "datum.g == 'NCAPH' && datum.series == 'Reference Count'"}, {"calculate": "replace(replace(datum.cat, 'Induced ', 'Induced|'), 'Delayed ', 'Delayed|')", "as": "label"}, {"calculate": "(datum.k % 4 == 0 ? 1.05 : 1.04) * 1200 * sin(datum.k * PI / 4)", "as": "x"}, {"calculate": "(datum.k % 4 == 0 ? 1.05 : (datum.k == 3 || datum.k == 5 ? 1.055 : 1.04)) * 1200 * cos(datum.k * PI / 4)", "as": "y"}], "mark": {"type": "text", "lineBreak": "|", "lineHeight": 21, "fontSize": 16.45, "font": "Lato", "color": "#000", "align": {"expr": "datum.k % 4 == 0 || indexof(datum.label, '|') >= 0 ? 'center' : (datum.k < 4 ? 'left' : 'right')"}, "dx": {"expr": "indexof(datum.label, '|') >= 0 ? (datum.k < 4 ? 1 : -1) * 0.244 * 16.45 * length(split(datum.label, '|')[0]) : 0"}, "baseline": {"expr": "datum.k == 0 || datum.k == 1 || datum.k == 7 ? 'bottom' : (datum.k == 2 || datum.k == 6 ? 'middle' : 'top')"}}, "encoding": {"text": {"field": "label", "type": "nominal"}}}
]
},
{
"width": 908, "height": 555,
"encoding": {
"x": {"field": "x", "type": "quantitative", "scale": {"domain": [-2604, 2844], "nice": false, "zero": false}, "axis": {"orient": "top", "domain": false, "ticks": false, "labels": false, "grid": false, "title": "F", "titleFont": "Liberation Sans", "titleFontSize": 45, "titleFontWeight": "bold", "titleColor": "#000", "titleAngle": 0, "titleAlign": "left", "titleAnchor": "start", "titleBaseline": "alphabetic", "titleX": 47.5, "titleY": 61}},
"y": {"field": "y", "type": "quantitative", "scale": {"domain": [-1326, 2004], "nice": false, "zero": false}, "axis": null}
},
"layer": [
{"data": {"name": "ticks"}, "transform": [{"filter": "datum.level > 0 && datum.level <= 1200 && datum.level % 200 == 0"}, {"flatten": ["k"]}, {"calculate": "datum.level * sin(datum.k * PI / 4)", "as": "x"}, {"calculate": "datum.level * cos(datum.k * PI / 4)", "as": "y"}], "mark": {"type": "line", "interpolate": "linear-closed", "color": "#d9d9d9", "strokeWidth": 1.3}, "encoding": {"detail": {"field": "level", "type": "nominal"}, "order": {"field": "k", "type": "quantitative"}}},
{"data": {"name": "series"}, "transform": [{"filter": "datum.g == 'NDUFA9'"}, {"calculate": "datum.value * sin(datum.k * PI / 4)", "as": "x"}, {"calculate": "datum.value * cos(datum.k * PI / 4)", "as": "y"}], "layer": [
{"mark": {"type": "line", "interpolate": "linear-closed", "strokeWidth": 3.8, "strokeJoin": "round"}, "encoding": {"order": {"field": "k", "type": "quantitative"}, "color": {"field": "series", "type": "nominal", "scale": {"domain": ["Inference Score", "Reference Count"], "range": ["#5B9BD5", "#ED7D31"]}, "legend": {"orient": "none", "legendX": 281, "legendY": 18.5, "direction": "horizontal", "title": "NDUFA9", "titleOrient": "top", "titleAnchor": "middle", "titleBaseline": "top", "titleFont": "Lato", "titleFontSize": 25, "titleFontWeight": "bold", "titleColor": "#000", "titlePadding": 13.5, "gridAlign": "none", "symbolType": "M-1,0L1,0M0.2,0A0.2,0.2,0,1,1,-0.2,0A0.2,0.2,0,1,1,0.2,0Z", "symbolSize": 1600, "symbolStrokeWidth": 3.5, "labelFont": "Lato", "labelFontSize": 15.3, "labelColor": "#000", "labelOffset": 2, "columnPadding": -7, "encode": {"symbols": {"update": {"fill": {"signal": "datum.value === 'Inference Score' ? '#5B9BD5' : '#ED7D31'"}, "stroke": {"signal": "datum.value === 'Inference Score' ? '#5B9BD5' : '#ED7D31'"}}}}}}}},
{"mark": {"type": "point", "filled": true, "size": 100, "opacity": 1}, "encoding": {"color": {"field": "series", "type": "nominal", "scale": {"domain": ["Inference Score", "Reference Count"], "range": ["#5B9BD5", "#ED7D31"]}, "legend": {"orient": "none", "legendX": 281, "legendY": 18.5, "direction": "horizontal", "title": "NDUFA9", "titleOrient": "top", "titleAnchor": "middle", "titleBaseline": "top", "titleFont": "Lato", "titleFontSize": 25, "titleFontWeight": "bold", "titleColor": "#000", "titlePadding": 13.5, "gridAlign": "none", "symbolType": "M-1,0L1,0M0.2,0A0.2,0.2,0,1,1,-0.2,0A0.2,0.2,0,1,1,0.2,0Z", "symbolSize": 1600, "symbolStrokeWidth": 3.5, "labelFont": "Lato", "labelFontSize": 15.3, "labelColor": "#000", "labelOffset": 2, "columnPadding": -7, "encode": {"symbols": {"update": {"fill": {"signal": "datum.value === 'Inference Score' ? '#5B9BD5' : '#ED7D31'"}, "stroke": {"signal": "datum.value === 'Inference Score' ? '#5B9BD5' : '#ED7D31'"}}}}}}}}
]},
{"data": {"name": "ticks"}, "transform": [{"filter": "datum.level <= 1200 && datum.level % 200 == 0"}, {"calculate": "0", "as": "x"}, {"calculate": "datum.level", "as": "y"}], "mark": {"type": "text", "align": "right", "baseline": "middle", "dx": -10, "fontSize": 13.6, "font": "Lato", "color": "#000"}, "encoding": {"text": {"field": "level", "type": "quantitative", "format": "d"}}},
{"data": {"name": "series"}, "transform": [{"filter": "datum.g == 'NDUFA9' && datum.series == 'Reference Count'"}, {"calculate": "replace(datum.cat, 'Liver ', 'Liver|')", "as": "label"}, {"calculate": "(datum.k % 4 == 0 ? 1.05 : 1.04) * 1200 * sin(datum.k * PI / 4)", "as": "x"}, {"calculate": "(datum.k == 0 ? 1.05 : (datum.k == 4 ? 1.005 : (datum.k == 3 || datum.k == 5 ? 1.055 : 1.04))) * 1200 * cos(datum.k * PI / 4)", "as": "y"}], "mark": {"type": "text", "lineBreak": "|", "lineHeight": 20, "fontSize": 14.9, "font": "Lato", "color": "#000", "align": {"expr": "datum.k % 4 == 0 || indexof(datum.label, '|') >= 0 ? 'center' : (datum.k < 4 ? 'left' : 'right')"}, "dx": {"expr": "indexof(datum.label, '|') >= 0 ? (datum.k < 4 ? 1 : -1) * 0.244 * 14.9 * length(split(datum.label, '|')[0]) : 0"}, "baseline": {"expr": "datum.k == 0 || datum.k == 1 || datum.k == 7 ? 'bottom' : (datum.k == 2 || datum.k == 6 ? 'middle' : 'top')"}}, "encoding": {"text": {"field": "label", "type": "nominal"}}}
]
}
], "spacing": 0, "bounds": "flush", "resolve": {"scale": {"x": "independent", "y": "independent", "color": "independent"}, "legend": {"color": "independent"}, "axis": {"x": "independent", "y": "independent"}}},
{"hconcat": [
{
"width": 907, "height": 560,
"encoding": {
"x": {"field": "x", "type": "quantitative", "scale": {"domain": [-3008, 3208], "nice": false, "zero": false}, "axis": {"orient": "top", "domain": false, "ticks": false, "labels": false, "grid": false, "title": "G", "titleFont": "Liberation Sans", "titleFontSize": 45, "titleFontWeight": "bold", "titleColor": "#000", "titleAngle": 0, "titleAlign": "left", "titleAnchor": "start", "titleBaseline": "alphabetic", "titleX": 27, "titleY": 53}},
"y": {"field": "y", "type": "quantitative", "scale": {"domain": [-1631, 2207], "nice": false, "zero": false}, "axis": null}
},
"layer": [
{"data": {"name": "ticks"}, "transform": [{"filter": "datum.level > 0 && datum.level <= 1400 && datum.level % 200 == 0"}, {"flatten": ["k"]}, {"calculate": "datum.level * sin(datum.k * PI / 4)", "as": "x"}, {"calculate": "datum.level * cos(datum.k * PI / 4)", "as": "y"}], "mark": {"type": "line", "interpolate": "linear-closed", "color": "#d9d9d9", "strokeWidth": 1.3}, "encoding": {"detail": {"field": "level", "type": "nominal"}, "order": {"field": "k", "type": "quantitative"}}},
{"data": {"name": "series"}, "transform": [{"filter": "datum.g == 'NDUFS1'"}, {"calculate": "datum.value * sin(datum.k * PI / 4)", "as": "x"}, {"calculate": "datum.value * cos(datum.k * PI / 4)", "as": "y"}], "layer": [
{"mark": {"type": "line", "interpolate": "linear-closed", "strokeWidth": 3.8, "strokeJoin": "round"}, "encoding": {"order": {"field": "k", "type": "quantitative"}, "color": {"field": "series", "type": "nominal", "scale": {"domain": ["Inference Score", "Reference Count"], "range": ["#5B9BD5", "#ED7D31"]}, "legend": {"orient": "none", "legendX": 309, "legendY": 17.6, "direction": "horizontal", "title": "NDUFS1", "titleOrient": "top", "titleAnchor": "middle", "titleBaseline": "top", "titleFont": "Lato", "titleFontSize": 22, "titleFontWeight": "bold", "titleColor": "#000", "titlePadding": 9.9, "gridAlign": "none", "symbolType": "M-1,0L1,0M0.2,0A0.2,0.2,0,1,1,-0.2,0A0.2,0.2,0,1,1,0.2,0Z", "symbolSize": 1369, "symbolStrokeWidth": 3.2, "labelFont": "Lato", "labelFontSize": 12.6, "labelColor": "#000", "labelOffset": 2, "columnPadding": -7, "encode": {"symbols": {"update": {"fill": {"signal": "datum.value === 'Inference Score' ? '#5B9BD5' : '#ED7D31'"}, "stroke": {"signal": "datum.value === 'Inference Score' ? '#5B9BD5' : '#ED7D31'"}}}}}}}},
{"mark": {"type": "point", "filled": true, "size": 100, "opacity": 1}, "encoding": {"color": {"field": "series", "type": "nominal", "scale": {"domain": ["Inference Score", "Reference Count"], "range": ["#5B9BD5", "#ED7D31"]}, "legend": {"orient": "none", "legendX": 309, "legendY": 17.6, "direction": "horizontal", "title": "NDUFS1", "titleOrient": "top", "titleAnchor": "middle", "titleBaseline": "top", "titleFont": "Lato", "titleFontSize": 22, "titleFontWeight": "bold", "titleColor": "#000", "titlePadding": 9.9, "gridAlign": "none", "symbolType": "M-1,0L1,0M0.2,0A0.2,0.2,0,1,1,-0.2,0A0.2,0.2,0,1,1,0.2,0Z", "symbolSize": 1369, "symbolStrokeWidth": 3.2, "labelFont": "Lato", "labelFontSize": 12.6, "labelColor": "#000", "labelOffset": 2, "columnPadding": -7, "encode": {"symbols": {"update": {"fill": {"signal": "datum.value === 'Inference Score' ? '#5B9BD5' : '#ED7D31'"}, "stroke": {"signal": "datum.value === 'Inference Score' ? '#5B9BD5' : '#ED7D31'"}}}}}}}}
]},
{"data": {"name": "ticks"}, "transform": [{"filter": "datum.level <= 1400 && datum.level % 200 == 0"}, {"calculate": "0", "as": "x"}, {"calculate": "datum.level", "as": "y"}], "mark": {"type": "text", "align": "right", "baseline": "middle", "dx": -9, "fontSize": 12, "font": "Lato", "color": "#000"}, "encoding": {"text": {"field": "level", "type": "quantitative", "format": "d"}}},
{"data": {"name": "series"}, "transform": [{"filter": "datum.g == 'NDUFS1' && datum.series == 'Reference Count'"}, {"calculate": "datum.cat", "as": "label"}, {"calculate": "(datum.k % 4 == 0 ? 1.05 : 1.04) * 1400 * sin(datum.k * PI / 4)", "as": "x"}, {"calculate": "(datum.k % 4 == 0 ? 1.05 : (datum.k == 3 || datum.k == 5 ? 1.055 : 1.04)) * 1400 * cos(datum.k * PI / 4)", "as": "y"}], "mark": {"type": "text", "fontSize": 12.8, "font": "Lato", "color": "#000", "align": {"expr": "datum.k % 4 == 0 ? 'center' : (datum.k < 4 ? 'left' : 'right')"}, "baseline": {"expr": "datum.k == 0 || datum.k == 1 || datum.k == 7 ? 'bottom' : (datum.k == 2 || datum.k == 6 ? 'middle' : 'top')"}}, "encoding": {"text": {"field": "label", "type": "nominal"}}}
]
},
{
"width": 908, "height": 560,
"encoding": {
"x": {"field": "x", "type": "quantitative", "scale": {"domain": [-2610, 2838], "nice": false, "zero": false}, "axis": {"orient": "top", "domain": false, "ticks": false, "labels": false, "grid": false, "title": "H", "titleFont": "Liberation Sans", "titleFontSize": 45, "titleFontWeight": "bold", "titleColor": "#000", "titleAngle": 0, "titleAlign": "left", "titleAnchor": "start", "titleBaseline": "alphabetic", "titleX": 47.5, "titleY": 53}},
"y": {"field": "y", "type": "quantitative", "scale": {"domain": [-1320, 2040], "nice": false, "zero": false}, "axis": null}
},
"layer": [
{"data": {"name": "ticks"}, "transform": [{"filter": "datum.level > 0 && datum.level <= 1200 && datum.level % 200 == 0"}, {"flatten": ["k"]}, {"calculate": "datum.level * sin(datum.k * PI / 4)", "as": "x"}, {"calculate": "datum.level * cos(datum.k * PI / 4)", "as": "y"}], "mark": {"type": "line", "interpolate": "linear-closed", "color": "#d9d9d9", "strokeWidth": 1.3}, "encoding": {"detail": {"field": "level", "type": "nominal"}, "order": {"field": "k", "type": "quantitative"}}},
{"data": {"name": "series"}, "transform": [{"filter": "datum.g == 'NUF2'"}, {"calculate": "datum.value * sin(datum.k * PI / 4)", "as": "x"}, {"calculate": "datum.value * cos(datum.k * PI / 4)", "as": "y"}], "layer": [
{"mark": {"type": "line", "interpolate": "linear-closed", "strokeWidth": 3.8, "strokeJoin": "round"}, "encoding": {"order": {"field": "k", "type": "quantitative"}, "color": {"field": "series", "type": "nominal", "scale": {"domain": ["Inference Score", "Reference Count"], "range": ["#5B9BD5", "#ED7D31"]}, "legend": {"orient": "none", "legendX": 278, "legendY": 23.3, "direction": "horizontal", "title": "NUF2", "titleOrient": "top", "titleAnchor": "middle", "titleBaseline": "top", "titleFont": "Lato", "titleFontSize": 25, "titleFontWeight": "bold", "titleColor": "#000", "titlePadding": 12.7, "gridAlign": "none", "symbolType": "M-1,0L1,0M0.2,0A0.2,0.2,0,1,1,-0.2,0A0.2,0.2,0,1,1,0.2,0Z", "symbolSize": 1764, "symbolStrokeWidth": 3.5, "labelFont": "Lato", "labelFontSize": 15.6, "labelColor": "#000", "labelOffset": 2, "columnPadding": -7, "encode": {"symbols": {"update": {"fill": {"signal": "datum.value === 'Inference Score' ? '#5B9BD5' : '#ED7D31'"}, "stroke": {"signal": "datum.value === 'Inference Score' ? '#5B9BD5' : '#ED7D31'"}}}}}}}},
{"mark": {"type": "point", "filled": true, "size": 100, "opacity": 1}, "encoding": {"color": {"field": "series", "type": "nominal", "scale": {"domain": ["Inference Score", "Reference Count"], "range": ["#5B9BD5", "#ED7D31"]}, "legend": {"orient": "none", "legendX": 278, "legendY": 23.3, "direction": "horizontal", "title": "NUF2", "titleOrient": "top", "titleAnchor": "middle", "titleBaseline": "top", "titleFont": "Lato", "titleFontSize": 25, "titleFontWeight": "bold", "titleColor": "#000", "titlePadding": 12.7, "gridAlign": "none", "symbolType": "M-1,0L1,0M0.2,0A0.2,0.2,0,1,1,-0.2,0A0.2,0.2,0,1,1,0.2,0Z", "symbolSize": 1764, "symbolStrokeWidth": 3.5, "labelFont": "Lato", "labelFontSize": 15.6, "labelColor": "#000", "labelOffset": 2, "columnPadding": -7, "encode": {"symbols": {"update": {"fill": {"signal": "datum.value === 'Inference Score' ? '#5B9BD5' : '#ED7D31'"}, "stroke": {"signal": "datum.value === 'Inference Score' ? '#5B9BD5' : '#ED7D31'"}}}}}}}}
]},
{"data": {"name": "ticks"}, "transform": [{"filter": "datum.level <= 1200 && datum.level % 200 == 0"}, {"calculate": "0", "as": "x"}, {"calculate": "datum.level", "as": "y"}], "mark": {"type": "text", "align": "right", "baseline": "middle", "dx": -10, "fontSize": 13.9, "font": "Lato", "color": "#000"}, "encoding": {"text": {"field": "level", "type": "quantitative", "format": "d"}}},
{"data": {"name": "series"}, "transform": [{"filter": "datum.g == 'NUF2' && datum.series == 'Reference Count'"}, {"calculate": "replace(datum.cat, 'Liver ', 'Liver|')", "as": "label"}, {"calculate": "(datum.k % 4 == 0 ? 1.05 : 1.04) * 1200 * sin(datum.k * PI / 4)", "as": "x"}, {"calculate": "(datum.k % 4 == 0 ? 1.05 : (datum.k == 3 || datum.k == 5 ? 1.055 : 1.04)) * 1200 * cos(datum.k * PI / 4)", "as": "y"}], "mark": {"type": "text", "lineBreak": "|", "lineHeight": 20, "fontSize": 15.2, "font": "Lato", "color": "#000", "align": {"expr": "datum.k % 4 == 0 || indexof(datum.label, '|') >= 0 ? 'center' : (datum.k < 4 ? 'left' : 'right')"}, "dx": {"expr": "indexof(datum.label, '|') >= 0 ? (datum.k < 4 ? 1 : -1) * 0.244 * 15.2 * length(split(datum.label, '|')[0]) : 0"}, "baseline": {"expr": "datum.k == 0 || datum.k == 1 || datum.k == 7 ? 'bottom' : (datum.k == 2 || datum.k == 6 ? 'middle' : 'top')"}}, "encoding": {"text": {"field": "label", "type": "nominal"}}}
]
}
], "spacing": 0, "bounds": "flush", "resolve": {"scale": {"x": "independent", "y": "independent", "color": "independent"}, "legend": {"color": "independent"}, "axis": {"x": "independent", "y": "independent"}}}
]
}
